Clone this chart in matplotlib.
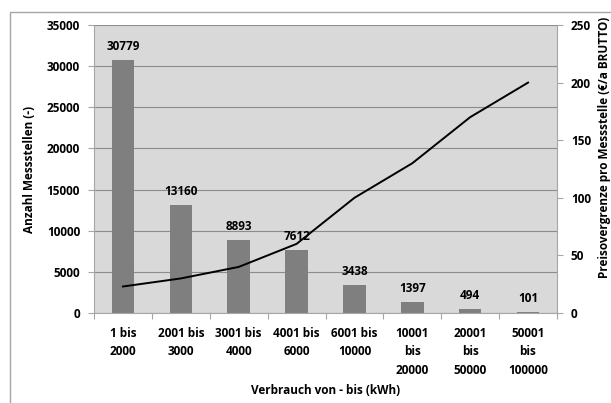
import matplotlib.pyplot as plt
import numpy as np

kategorien = ['1 bis\n2000', '2001 bis\n3000', '3001 bis\n4000', '4001 bis\n6000',
              '6001 bis\n10000', '10001\nbis\n20000', '20001\nbis\n50000', '50001\nbis\n100000']
messstellen = [30779, 13160, 8893, 7612, 3438, 1397, 494, 101]
preisgrenze = [23, 30, 40, 60, 100, 130, 170, 200]

plt.rcParams['font.family'] = ['Open Sans', 'DejaVu Sans']
plt.rcParams['font.weight'] = 'bold'
fs = 8.5

fig = plt.figure(figsize=(6.11, 4.03), dpi=100)
# äußerer Rahmen
fig.patches.append(plt.Rectangle((10 / 611, -0.01), 1.0, 1 - 12 / 403 + 0.01,
                                 transform=fig.transFigure, fill=False,
                                 edgecolor='#a6a6a6', linewidth=1))

ax = fig.add_axes([94 / 611, 1 - 313 / 403, (557 - 94) / 611, (313 - 25) / 403])
ax.set_facecolor('#d9d9d9')
x = np.arange(len(kategorien))
ax.bar(x, messstellen, width=0.39, color='#7f7f7f', zorder=2)
for xi, v in zip(x, messstellen):
    ax.annotate(str(v), (xi, v), xytext=(0, 5), textcoords='offset points',
                ha='center', va='bottom', fontsize=fs, fontweight='bold')

ax.set_ylim(0, 35000)
ax.set_yticks(range(0, 35001, 5000))
ax.set_xlim(-0.5, len(kategorien) - 0.5)
ax.set_xticks(np.arange(-0.5, len(kategorien), 1))
ax.set_xticklabels([])
ax.set_xticks(x, minor=True)
ax.set_xticklabels(kategorien, minor=True, fontsize=fs, fontweight='bold',
                   linespacing=1.55, va='top')
ax.tick_params(axis='x', which='minor', length=0, pad=10)
ax.tick_params(axis='x', which='major', length=4, color='#a6a6a6')
ax.tick_params(axis='y', length=4, color='#a6a6a6', labelsize=fs, pad=6)
ax.grid(axis='y', color='#8c8c8c', linewidth=0.8, zorder=1)
ax.set_axisbelow(True)
for s in ['top', 'right']:
    ax.spines[s].set_visible(False)
ax.spines['left'].set_color('#a6a6a6')
ax.spines['bottom'].set_color('#a6a6a6')
ax.set_ylabel('Anzahl Messstellen (-)', fontsize=fs, fontweight='bold')
ax.yaxis.set_label_coords(-0.125, 0.5)
ax.set_xlabel('Verbrauch von - bis (kWh)', fontsize=fs, fontweight='bold')
ax.xaxis.set_label_coords(0.5, -0.245)

ax2 = ax.twinx()
ax2.plot(x, preisgrenze, color='black', linewidth=1.4, zorder=3)
ax2.set_ylim(0, 250)
ax2.set_yticks(range(0, 251, 50))
ax2.tick_params(axis='y', length=4, color='#a6a6a6', labelsize=fs, pad=6)
for s in ['top', 'left', 'bottom']:
    ax2.spines[s].set_visible(False)
ax2.spines['right'].set_color('#a6a6a6')
ax2.set_ylabel('Preisovergrenze pro Messstelle (€/a BRUTTO)', fontsize=fs, fontweight='bold')
ax2.yaxis.set_label_coords(1.089, 0.575)

fig.savefig('out.png', dpi=100)
